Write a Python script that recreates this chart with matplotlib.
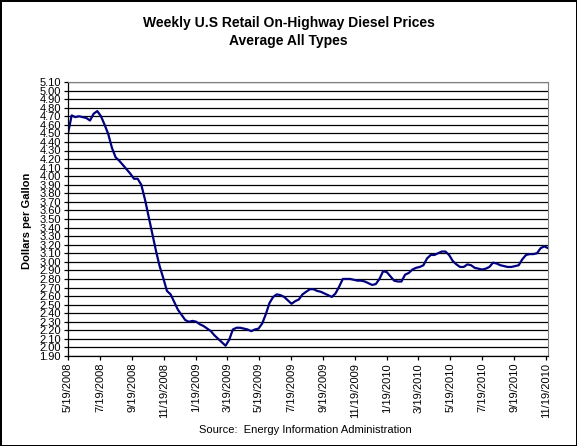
import numpy as np
import matplotlib
matplotlib.use("Agg")
import matplotlib.pyplot as plt
import pandas as pd

# weekly prices, first monday of the series and then every 7 days
start_date = "2008-05-19"
prices = [
    4.50, 4.71, 4.69, 4.70, 4.69, 4.68, 4.65, 4.73, 4.76, 4.70,  # to 7/21/08
    4.60, 4.49, 4.33, 4.22, 4.18, 4.13, 4.08, 4.03, 3.97, 3.97,  # to 9/29/08
    3.90, 3.73, 3.53, 3.33, 3.13, 2.95, 2.81, 2.66, 2.62, 2.53,  # to 12/8/08
    2.44, 2.38, 2.32, 2.30, 2.31, 2.30, 2.27, 2.25, 2.22, 2.19,  # to 2/16/09
    2.14, 2.10, 2.06, 2.02, 2.09, 2.21, 2.23, 2.23, 2.22, 2.21,  # to 4/27/09
    2.19, 2.21, 2.22, 2.28, 2.39, 2.52, 2.59, 2.62, 2.61, 2.59,  # to 7/6/09
    2.55, 2.51, 2.54, 2.56, 2.62, 2.65, 2.68, 2.68, 2.66, 2.65,  # to 9/14/09
    2.63, 2.61, 2.59, 2.63, 2.71, 2.80, 2.80, 2.80, 2.79, 2.78,  # to 11/23/09
    2.78, 2.77, 2.75, 2.73, 2.74, 2.80, 2.89, 2.88, 2.83, 2.78,  # to 2/1/10
    2.77, 2.77, 2.85, 2.87, 2.91, 2.93, 2.94, 2.96, 3.04, 3.08,  # to 4/12/10
    3.08, 3.10, 3.12, 3.12, 3.08, 3.01, 2.97, 2.94, 2.94, 2.97,  # to 6/21/10
    2.96, 2.93, 2.92, 2.91, 2.92, 2.94, 2.99, 2.98, 2.96, 2.95,  # to 8/30/10
    2.94, 2.94, 2.95, 2.96, 3.03, 3.08, 3.09, 3.09, 3.10, 3.16,  # to 11/8/10
    3.18, 3.16,
]
dates = pd.date_range(start_date, periods=len(prices), freq="7D")

tick_dates = pd.to_datetime([
    "2008-05-19", "2008-07-19", "2008-09-19", "2008-11-19", "2009-01-19",
    "2009-03-19", "2009-05-19", "2009-07-19", "2009-09-19", "2009-11-19",
    "2010-01-19", "2010-03-19", "2010-05-19", "2010-07-19", "2010-09-19",
    "2010-11-19",
])
tick_labels = [f"{d.month}/{d.day}/{d.year}" for d in tick_dates]
y_ticks = np.round(np.arange(1.90, 5.101, 0.10), 2)

plt.rcParams['font.family'] = ['Liberation Sans', 'DejaVu Sans']

fig = plt.figure(figsize=(5.77, 4.46), dpi=100)
fig.patch.set_edgecolor('black')
fig.patch.set_linewidth(2)
ax = fig.add_axes([68/577, 90/446, 480/577, 274/446])

ax.plot(dates, prices, color='#000080', linewidth=1.6)

ax.set_ylim(1.90, 5.10)
ax.set_yticks(y_ticks)
ax.set_yticklabels([f"{v:.2f}" for v in y_ticks], fontsize=8)
ax.yaxis.grid(True, color='black', linewidth=0.9)

ax.set_xlim(dates[0], dates[-1])
ax.set_xticks(tick_dates)
ax.set_xticklabels(tick_labels, rotation=90, fontsize=8)
ax.tick_params(axis='both', direction='out', length=3, width=0.9, pad=2)

# plot area border: black axes left/bottom, gray elsewhere
for side in ['top', 'right']:
    ax.spines[side].set_color('#808080')
for side in ['left', 'bottom']:
    ax.spines[side].set_linewidth(0.9)

ax.set_ylabel('Dollars per Gallon', fontsize=8, fontweight='bold')
ax.yaxis.set_label_coords(-36/480, 0.495)
fig.text(0.5, 1 - 23/446, 'Weekly U.S Retail On-Highway Diesel Prices',
         ha='center', va='center', fontsize=10, fontweight='bold')
fig.text(0.5, 1 - 41/446, 'Average All Types',
         ha='center', va='center', fontsize=10, fontweight='bold')
fig.text(305/577, 1 - 430/446, 'Source:  Energy Information Administration',
         ha='center', va='center', fontsize=8)

fig.savefig('out.png', dpi=100)
